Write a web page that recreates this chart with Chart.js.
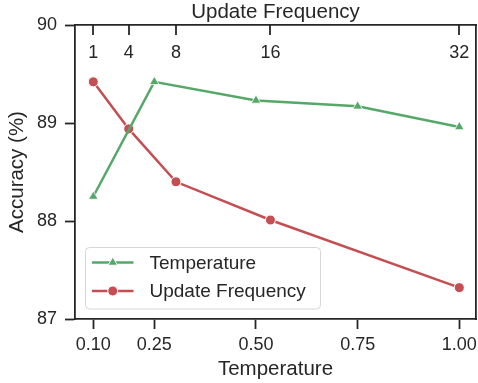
<!DOCTYPE html>
<html>
<head>
<meta charset="utf-8">
<script src="https://cdn.jsdelivr.net/npm/chart.js@4.4.1/dist/chart.umd.min.js"></script>
<style>
  html, body { margin: 0; padding: 0; background: #ffffff; }
  #wrap { width: 478px; height: 383px; }
</style>
</head>
<body>
<div id="wrap"><canvas id="c" width="478" height="383"></canvas></div>
<script>
// ---- data ----
const temperatures = [0.10, 0.25, 0.50, 0.75, 1.00];
const temperatureAccuracy = [88.25, 89.42, 89.23, 89.17, 88.96];
const updateFrequencies = [1, 4, 8, 16, 32];
const updateFrequencyAccuracy = [89.42, 88.94, 88.40, 88.01, 87.32];
const temperatureTicks = [0.10, 0.25, 0.50, 0.75, 1.00];
const updateFrequencyTicks = [1, 4, 8, 16, 32];
const accuracyTicks = [87, 88, 89, 90];
const seriesLabels = ['Temperature', 'Update Frequency'];

// ---- styling ----
const FONT = "'Liberation Sans', Arial, Helvetica, sans-serif";
const INK = '#262626';
const GREEN = '#55A868';
const RED = '#C44E52';

// bottom axis range (with matplotlib-like margins) and aligned top axis range
const tMin = 0.055, tMax = 1.041;
const fPerT = (updateFrequencies[updateFrequencies.length - 1] - updateFrequencies[0]) /
              (temperatures[temperatures.length - 1] - temperatures[0]);
const fMin = updateFrequencies[0] - (temperatures[0] - tMin) * fPerT;
const fMax = updateFrequencies[updateFrequencies.length - 1] + (tMax - temperatures[temperatures.length - 1]) * fPerT;

// inward tick marks of the top (Update Frequency) axis, placed by the library's scale
const topTicksPlugin = {
  id: 'topInwardTicks',
  afterDraw(chart) {
    const s = chart.scales.x2;
    const ctx = chart.ctx;
    ctx.save();
    ctx.strokeStyle = INK;
    ctx.lineWidth = 1.8;
    s.ticks.forEach(t => {
      const px = Math.round(s.getPixelForValue(t.value));
      ctx.beginPath();
      ctx.moveTo(px, s.bottom - 1);
      ctx.lineTo(px, s.bottom + 10);
      ctx.stroke();
    });
    ctx.restore();
  }
};

const legendPlugin = {
  id: 'insideLegend',
  afterDraw(chart) {
    const ctx = chart.ctx;
    const a = chart.chartArea;
    const x0 = a.left + 10.5, y0 = a.top + 222.5, w = 235, h = 61.5, r = 4;
    ctx.save();
    ctx.beginPath();
    ctx.moveTo(x0 + r, y0);
    ctx.lineTo(x0 + w - r, y0);
    ctx.arcTo(x0 + w, y0, x0 + w, y0 + r, r);
    ctx.lineTo(x0 + w, y0 + h - r);
    ctx.arcTo(x0 + w, y0 + h, x0 + w - r, y0 + h, r);
    ctx.lineTo(x0 + r, y0 + h);
    ctx.arcTo(x0, y0 + h, x0, y0 + h - r, r);
    ctx.lineTo(x0, y0 + r);
    ctx.arcTo(x0, y0, x0 + r, y0, r);
    ctx.closePath();
    ctx.fillStyle = 'rgba(255,255,255,0.8)';
    ctx.fill();
    ctx.strokeStyle = '#d6d6d6';
    ctx.lineWidth = 1;
    ctx.stroke();

    chart.data.datasets.forEach((ds, i) => {
      const cy = y0 + 15 + i * 28.5;
      const lx1 = x0 + 6.5, lx2 = x0 + 48, mx = (lx1 + lx2) / 2;
      ctx.strokeStyle = ds.borderColor;
      ctx.lineWidth = ds.borderWidth;
      ctx.beginPath();
      ctx.moveTo(lx1, cy);
      ctx.lineTo(lx2, cy);
      ctx.stroke();
      ctx.fillStyle = ds.pointBackgroundColor;
      ctx.strokeStyle = '#ffffff';
      ctx.lineWidth = 1;
      ctx.beginPath();
      if (ds.pointStyle === 'triangle') {
        const rr = ds.pointRadius;
        ctx.moveTo(mx, cy - rr);
        ctx.lineTo(mx + rr * 0.866, cy + rr * 0.5);
        ctx.lineTo(mx - rr * 0.866, cy + rr * 0.5);
        ctx.closePath();
      } else {
        ctx.arc(mx, cy, ds.pointRadius, 0, Math.PI * 2);
      }
      ctx.fill();
      ctx.stroke();
      ctx.fillStyle = INK;
      ctx.font = '19px ' + FONT;
      ctx.textBaseline = 'middle';
      ctx.textAlign = 'left';
      ctx.fillText(ds.label, x0 + 64, cy + 1);
    });
    ctx.restore();
  }
};

const tickGrid = (len) => ({
  display: true,
  drawOnChartArea: false,
  drawTicks: true,
  tickLength: len,
  tickColor: INK,
  tickWidth: 1.8,
  color: INK
});
const border = { display: true, color: INK, width: 1.8 };

new Chart(document.getElementById('c'), {
  type: 'line',
  data: {
    datasets: [
      {
        label: seriesLabels[0],
        data: temperatures.map((t, i) => ({ x: t, y: temperatureAccuracy[i] })),
        xAxisID: 'x', yAxisID: 'y',
        borderColor: GREEN, backgroundColor: GREEN,
        pointBackgroundColor: GREEN, pointBorderColor: '#ffffff',
        borderWidth: 2.5, pointRadius: 5.5, pointBorderWidth: 0.8,
        pointStyle: 'triangle', tension: 0, fill: false
      },
      {
        label: seriesLabels[1],
        data: updateFrequencies.map((f, i) => ({ x: f, y: updateFrequencyAccuracy[i] })),
        xAxisID: 'x2', yAxisID: 'y',
        borderColor: RED, backgroundColor: RED,
        pointBackgroundColor: RED, pointBorderColor: '#ffffff',
        borderWidth: 2.5, pointRadius: 5, pointBorderWidth: 1,
        pointStyle: 'circle', tension: 0, fill: false
      }
    ]
  },
  options: {
    responsive: false,
    animation: false,
    devicePixelRatio: 1,
    layout: { autoPadding: false, padding: { left: 0, right: 2, top: 0, bottom: 0 } },
    plugins: { legend: { display: false }, tooltip: { enabled: false } },
    scales: {
      x: {
        type: 'linear', position: 'bottom', min: tMin, max: tMax,
        grid: tickGrid(10), border: border,
        afterBuildTicks: (s) => { s.ticks = temperatureTicks.map(v => ({ value: v })); },
        afterFit: (s) => { s.height = 64; s.paddingLeft = 0; s.paddingRight = 0; },
        ticks: {
          color: INK, padding: 5, maxRotation: 0, autoSkip: false,
          font: { family: FONT, size: 18 },
          callback: (v) => Number(v).toFixed(2)
        },
        title: {
          display: true, text: 'Temperature', color: INK,
          font: { family: FONT, size: 20.5 }, padding: { top: 0, bottom: 1 }
        }
      },
      x2: {
        type: 'linear', position: 'top', min: fMin, max: fMax,
        grid: { display: true, drawOnChartArea: false, drawTicks: false },
        border: border,
        afterBuildTicks: (s) => { s.ticks = updateFrequencyTicks.map(v => ({ value: v })); },
        afterFit: (s) => { s.height = 25; s.paddingLeft = 0; s.paddingRight = 0; },
        ticks: {
          color: INK, padding: 17, mirror: true, maxRotation: 0, autoSkip: false,
          font: { family: FONT, size: 18 },
          callback: (v) => String(v)
        },
        title: {
          display: true, text: 'Update Frequency', color: INK,
          font: { family: FONT, size: 20.5 }, padding: { top: 0, bottom: 0 }
        }
      },
      y: {
        type: 'linear', position: 'left', min: 87, max: 90,
        grid: tickGrid(10), border: border,
        afterBuildTicks: (s) => { s.ticks = accuracyTicks.map(v => ({ value: v })); },
        afterFit: (s) => { s.width = 75; },
        ticks: {
          color: INK, padding: 8,
          font: { family: FONT, size: 18 },
          callback: (v) => String(v)
        },
        title: {
          display: true, text: 'Accuracy (%)', color: INK,
          font: { family: FONT, size: 20.5 }, padding: { top: 5, bottom: 0 }
        }
      },
      yRight: {
        type: 'linear', position: 'right', min: 87, max: 90,
        grid: { display: false, drawOnChartArea: false, drawTicks: false },
        border: border,
        ticks: { display: false },
        afterFit: (s) => { s.width = 0; }
      }
    }
  },
  plugins: [topTicksPlugin, legendPlugin]
});
</script>
</body>
</html>
